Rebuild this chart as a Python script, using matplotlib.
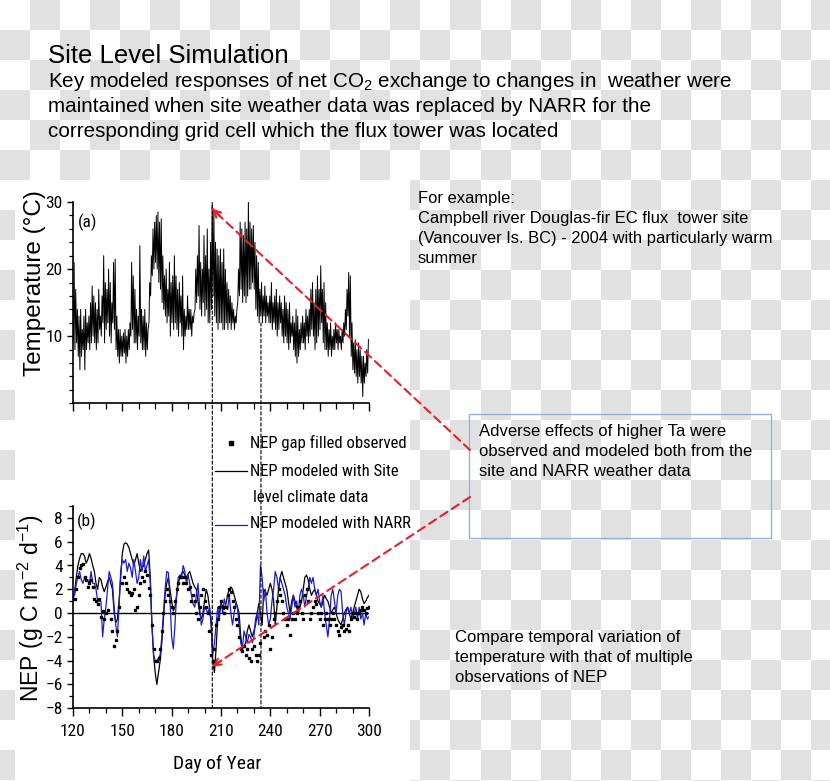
import numpy as np
import matplotlib
matplotlib.use('Agg')
import matplotlib.pyplot as plt
from matplotlib.patches import Rectangle, ConnectionPatch
from matplotlib.colors import ListedColormap
from matplotlib.ticker import MultipleLocator

NARROW = ['Roboto Condensed', 'Archivo Narrow', 'PT Sans Narrow', 'Liberation Sans', 'DejaVu Sans']
REG = ['Liberation Sans', 'DejaVu Sans']
plt.rcParams['font.family'] = NARROW
plt.rcParams['mathtext.fontset'] = 'custom'
plt.rcParams['mathtext.rm'] = 'Liberation Sans'
plt.rcParams['mathtext.it'] = 'Liberation Sans:italic'

# ---------------- data ----------------
temp_days = list(range(120, 300))
tmax = [21, 17, 14, 13, 14, 11, 13, 14, 12, 13,
        15, 17.5, 16, 15, 14, 17, 13, 16, 22, 18,
        17, 20, 18, 15, 21, 21.5, 13, 11, 11, 10,
        10.5, 11, 10, 11, 12, 21, 19, 17, 14, 13,
        23.5, 14, 13, 14, 12, 11, 18, 22, 26, 27,
        28, 28.5, 27, 27.5, 22, 19, 20, 17, 21, 18,
        19, 22, 19, 17, 18, 16, 19, 14, 13, 16,
        14, 14, 13, 13.5, 20, 22, 26.5, 21, 20, 25,
        22, 26, 20, 24, 30, 29, 24, 23, 22, 23,
        21, 23, 20, 18, 17, 16, 15, 14, 13, 14,
        20, 27, 26, 25, 27, 26, 30, 27, 26, 26.5,
        24, 22, 21, 17, 18, 16, 17.5, 16, 15, 16,
        18, 15, 16, 17, 15, 16, 15, 14, 16, 15,
        14, 15, 12, 13, 12, 14, 13, 11, 12, 13,
        12, 14, 13, 14, 17, 18, 15, 17, 19, 17,
        20.5, 17, 18, 15, 12, 11, 12, 10, 11, 12,
        11, 11, 10, 11, 12, 14, 17, 19.5, 19, 12,
        9, 9.5, 8, 9, 8, 7, 7, 6, 8, 9.5]
tmin = [9, 8, 9, 7, 5, 7, 8, 5, 8, 9,
        8, 9, 10, 9, 8, 9, 11, 10, 12, 9,
        11, 12, 10, 9, 12, 11, 8, 7, 6, 7,
        7, 7.5, 6, 7, 8, 10, 11, 9, 9, 8,
        10, 9, 8, 8, 7, 8, 12, 16, 19, 20,
        21, 20, 18, 17, 15, 14, 13, 12, 13, 10,
        12, 11, 12, 11, 10, 12, 10, 8, 10, 11,
        11, 11, 10, 12, 14, 15, 16, 14, 13, 15,
        13, 14, 12, 12, 14, 16, 13, 12, 11, 12,
        12, 11, 11, 12, 11, 12, 11, 12, 11, 12,
        15, 16, 17, 15, 16, 15, 16, 17, 17, 18,
        17, 14, 13, 12, 13, 12, 13, 12, 13, 12,
        12, 11, 12, 11, 10, 11, 12, 10, 9, 10,
        9, 8, 9, 10, 8, 7, 6, 7, 8, 9,
        9, 8, 10, 9, 10, 11, 10, 8, 9, 10,
        11, 12, 9, 8, 8, 7, 8, 7, 8, 8,
        9, 8, 9, 8, 9, 10, 11, 13, 10, 7,
        5, 4.5, 4, 3, 4, 3, 1, 3, 4, 4.5]

nep_days = list(range(120, 301))
nep_site = [1.0, 1.8, 3, 4, 4.6, 5, 5, 4.8, 4.2, 4.5,
            5, 4.6, 4.0, 3.5, 2.5, 2, 3, 2.8, 2.2, 1.8,
            2.2, 2.6, 3, 2.5, 2, 0, -0.8, -0.5, 1, 3,
            5, 5.8, 5.9, 5.8, 5.5, 5, 4.5, 4, 4.5, 5,
            4.2, 3.5, 3.8, 4, 4.5, 5, 5.3, 3, -1, -3.5,
            -5, -6, -5, -4, -2.5, -0.5, 1.5, 2.5, 3, 2,
            1, 0.2, 0.5, 1.5, 2.5, 3, 3.3, 3.5, 3.2, 3,
            3.3, 3.5, 3, 2.5, 2.2, 2, 1, 0, -0.5, 0,
            1, 2, 1.5, 0.5, -1, -4, -5, -3, -0.5, 0,
            0.8, 0.6, 0.3, 0.8, 1.5, 2, 2.2, 2, 1.5, 1,
            0.5, 0, -2, -3, -2.8, -2.5, -1.5, -1, -1.5, -2,
            -1.5, -1, 0, 0.8, 0, -1, 2, 1.8, 1.5, 2,
            2.5, 2, 1, -1, 0.5, 2, 3, 3.5, 3, 2.5,
            2, 1, 0, 1, 1.5, 1, 0.5, 0, 0.5, 1,
            2, 3, 3.2, 2.8, 2, 1.5, 1.8, 2, 1.5, 1,
            0.8, 0.5, 1, 1.5, 1.2, 1, 0.5, 0, 0.3, 0.5,
            0, -0.5, -0.8, -1, -0.5, 0, 0.3, 0.5, 0, -0.5,
            0, 0.5, 1, 1.5, 2, 1.8, 1.2, 0.8, 1, 1.3,
            1.5]
nep_narr = [2.5, 1.5, 2.5, 3, 3.5, 2.8, 2.5, 3, 2.7, 2.8,
            2.5, 3.5, 2.5, 2.5, 2, 1, 1, 1, -2, -0.5,
            0.5, 2, 3.5, 3, 2.5, 0.5, -1, -2, 0.5, 3.5,
            4.5, 4.2, 4.5, 3.5, 4.2, 3.8, 3, 4.5, 3.5, 2.5,
            3, 4.5, 3.5, 4.8, 3.5, 4, 4.5, 2.5, -1, -3.5,
            -4, -4, -3.8, -3.5, -2, 0, 2, 3.5, 3.4, 1,
            -2, -3, -1, 1.5, 3, 3.2, 3, 4, 3.5, 2.5,
            3.2, 2.5, 1.5, 0.8, 0.5, 1.5, 2.5, 0.5, -1, -0.5,
            0.5, 0.3, 0, 0.5, -0.5, -3.5, -2.5, -1, 0.5, -0.5,
            1, 0, 1.2, 0.5, 0.3, 1.5, 0, -1, 0, 0.8,
            0.5, -1, -2.5, -3, -1.5, -2, -2.5, -1.8, -2, -2.5,
            -2, -0.5, 0, -1, 4, 3, 1, 2, 0, -1,
            -0.5, 1, 2, 3.5, 3, 2, 3, 2.5, 2, 1.5,
            0.5, 0, -0.5, 0.5, 1.5, 0.5, 1, 0, 1.5, 2,
            1.5, 0.5, 1.5, 2, 3, 2.5, 3, 2, 1.5, 2,
            1, 0.5, 1.5, 0, -1, -2, -0.5, 1.5, 2, 1,
            0, 1.5, 2, 1.8, 0, -1, 0, 0.5, 0, 0.5,
            -0.5, 0, 0.5, -0.5, 0.5, -0.5, 0, -1, 0, -0.5,
            -0.3]
obs_days = [121, 122, 123, 124, 125, 126, 127, 128, 129, 130, 131, 132, 133, 134, 135, 136, 137, 138, 139, 140,
            141, 143, 144, 145, 146, 147, 148, 150, 151, 152, 153, 154, 155, 156, 157, 158, 159, 160,
            161, 162, 163, 164, 165, 166, 167, 168, 169, 170, 171, 172, 173, 174, 175, 176, 177, 178, 179, 180,
            181, 182, 183, 184, 185, 186, 187, 188, 189, 190, 191, 192, 193, 194, 195, 196, 197, 198, 199, 200,
            201, 202, 203, 204, 205, 206, 207, 208, 209, 210, 211, 212, 213, 214, 215, 216, 217, 218, 219, 220,
            221, 222, 223, 224, 225, 226, 227, 228, 229, 230, 231, 232, 233, 234, 236, 237, 238, 239, 240,
            241, 242, 243, 244, 245, 246, 247, 248, 249, 250, 251, 252, 253, 254, 255, 256, 257, 258, 259, 260,
            261, 262, 263, 264, 265, 266, 267, 268, 269, 270, 271, 272, 273, 274, 275, 276, 277, 278, 279, 280,
            281, 282, 283, 284, 285, 286, 287, 288, 289, 290, 291, 292, 293, 294, 295, 296, 297, 298, 299, 300]
obs_vals = [1.2, 2, 3, 3.8, 4, 4.1, 3, 2.8, 2.2, 2.5, 2.8, 2.2, 1.2, 1, 0.8, 1.2, -0.3, 0.2, -0.5, 0,
            0.3, -0.5, -1.5, -2.8, -2.3, -1.5, 0.5, 2.5, 3, 2.5, 2, 1.8, 1.5, 1.7, 2, 0.3, 0.5, 1.5,
            2.5, 3, 2.7, 3.5, 3.2, 2.1, 1.5, -1, -3, -4, -4, -3.8, -3, -1.5, 0, 1, 2, 1.5, 1, 0.5,
            0, 1, 2, 2.5, 3, 3, 2.5, 3, 2.5, 2, 2.2, 1, 1.5, 1, 0, -0.5, 0.5, 1.5, 2, 1,
            0.5, 0, -1.5, -3.5, -4, -3, -1, -0.5, 0.5, 1, 0.5, 0, 0.5, 1.5, 2, 1.8, 1, 0.5, -0.5, -1,
            -2, -3, -3.2, -2.8, -3.5, -3, -3.8, -4, -3, -2.8, -3.5, -4, -3.5, -2.5, -2, -1.5, -1.8, -1, -3,
            -2, -0.5, 0, 1, 2, 1.5, 1, 0, -0.5, -1, -0.5, -1.8, -0.5, 0, -0.5, 0, 0.5, 1, 0, -0.5,
            1.5, 2, 1, -0.5, 0, 0.5, 1, 0.8, 0, -0.5, 0, -1, -0.5, 0, -0.5, -1, -0.5, 0, -0.5, -1,
            -1.5, -1.8, -1.2, -1, -1.5, -1.3, -1, -1.5, -0.5, 0, -0.3, 0, -0.5, 0, 0.3, 0.5, 0.3, 0, 0.4, 0.5]

event_days = [204.7, 234.3]
event_temp_top = [29.5, 12.0]
arrow_tip_temp = (204.5, 29.0)
arrow_tip_nep = (204.5, -4.5)

# ---------------- figure ----------------
W, H = 830, 781
fig = plt.figure(figsize=(W / 100, H / 100), dpi=100)

def fx(x):
    return x / W

def fy(y):
    return 1 - y / H

bg = fig.add_axes([0, 0, 1, 1])
bg.set_axis_off()
ny, nx = 27, 28
pattern = np.add.outer(np.arange(ny), np.arange(nx)) % 2
bg.imshow(pattern, cmap=ListedColormap(['white', '#e1e1e1']),
          extent=(0, nx * 30, ny * 30, 0), interpolation='nearest', aspect='auto')
bg.add_patch(Rectangle((15, 180), 395, 601, facecolor='white', edgecolor='none'))

# title
bg.text(48, 62.7, 'Site Level Simulation', fontsize=18.5, family=REG, va='baseline')
bg.text(48, 87.3, 'Key modeled responses of net CO$_2$ exchange to changes in  weather were',
        fontsize=14.9, family=REG, va='baseline')
bg.text(48, 111.7, 'maintained when site weather data was replaced by NARR for the',
        fontsize=14.9, family=REG, va='baseline')
bg.text(48, 136.7, 'corresponding grid cell which the flux tower was located',
        fontsize=14.9, family=REG, va='baseline')

for i, s in enumerate(['For example:',
                       'Campbell river Douglas-fir EC flux  tower site',
                       '(Vancouver Is. BC) - 2004 with particularly warm',
                       'summer']):
    bg.text(418, 202.7 + 20 * i, s, fontsize=11.9, family=REG, va='baseline')

for i, s in enumerate(['Adverse effects of higher Ta were',
                       'observed and modeled both from the',
                       'site and NARR weather data']):
    bg.text(479, 436 + 20 * i, s, fontsize=12, family=REG, va='baseline')

for i, s in enumerate(['Compare temporal variation of',
                       'temperature with that of multiple',
                       'observations of NEP']):
    bg.text(455, 641.7 + 20 * i, s, fontsize=12, family=REG, va='baseline')

bg.add_patch(Rectangle((469.3, 414.3), 301.4, 123.4, fill=False, edgecolor='#9cb0d4', lw=1))

BLUE = '#1c1cc8'
# legend
bg.plot([230.7], [443], 's', ms=2.3, color='black')
bg.plot([215, 247], [471, 471], color='black', lw=0.9)
bg.plot([215, 247], [525, 525], color=BLUE, lw=0.9)
bg.text(250, 443, 'NEP gap filled observed', fontsize=12, va='center')
bg.text(250, 471, 'NEP modeled with Site', fontsize=12, va='center')
bg.text(253, 498, 'level climate data', fontsize=12, va='center')
bg.text(250, 524, 'NEP modeled with NARR', fontsize=12, va='center')

# axis labels
bg.text(35, 283.5, 'Temperature (°C)', rotation=90, fontsize=17.5, family=REG,
        ha='center', va='center')
bg.text(31, 608, 'NEP (g C m$^{-2}$ d$^{-1}$)', rotation=90, fontsize=16.5, family=REG,
        ha='center', va='center')
bg.text(217, 764, 'Day of Year', fontsize=14, ha='center', va='center')
bg.set_xlim(0, W)
bg.set_ylim(H, 0)

# ---------------- panels ----------------
ax1 = fig.add_axes([fx(73), fy(403.3), (369 - 73) / W, (403.3 - 202) / H])
ax2 = fig.add_axes([fx(73), fy(708.3), (369 - 73) / W, (708.3 - 506) / H])
for ax in (ax1, ax2):
    ax.set_facecolor('none')
    ax.spines['top'].set_visible(False)
    ax.spines['right'].set_visible(False)
    for sp in ('left', 'bottom'):
        ax.spines[sp].set_linewidth(1.2)
    ax.set_xlim(120, 300)
    ax.xaxis.set_major_locator(MultipleLocator(30))
    ax.xaxis.set_minor_locator(MultipleLocator(10))
    ax.tick_params(which='major', length=4.5, width=1, labelsize=12.5)
    ax.tick_params(axis='y', which='major', pad=3)
    ax.tick_params(which='minor', length=3, width=0.9)

t_time, t_val = [], []
for d, lo, hi in zip(temp_days, tmin, tmax):
    t_time += [d + 0.2, d + 0.65]
    t_val += [lo, hi]
ax1.plot(t_time, t_val, color='black', lw=0.7)
ax1.set_ylim(0, 30)
ax1.set_yticks([10, 20, 30])
ax1.yaxis.set_minor_locator(MultipleLocator(2))
ax1.tick_params(axis='x', which='both', labelbottom=False)
ax1.tick_params(axis='x', which='major', length=5.5)
ax1.tick_params(axis='x', which='minor', length=4.5)
ax1.text(0.015, 0.9, '(a)', transform=ax1.transAxes, fontsize=12.5, va='center')

ax2.axhline(0, color='black', lw=1, zorder=1)
ax2.plot(nep_days, nep_site, color='black', lw=0.9, zorder=2)
ax2.plot(nep_days, nep_narr, color=BLUE, lw=0.9, zorder=3)
ax2.plot(obs_days, obs_vals, 's', ms=2.0, color='black', zorder=4)
ax2.set_ylim(-8, 9)
ax2.set_yticks(list(range(-8, 9, 2)))
ax2.yaxis.set_minor_locator(MultipleLocator(1))
ax2.tick_params(axis='x', which='major', length=5.5, pad=6)
ax2.tick_params(axis='x', which='minor', length=3.5)
ax2.text(0.012, 0.925, '(b)', transform=ax2.transAxes, fontsize=12.5, va='center')

# dashed event lines spanning both panels
for d, top in zip(event_days, event_temp_top):
    cp = ConnectionPatch(xyA=(d, top), coordsA=ax1.transData, xyB=(d, -8), coordsB=ax2.transData,
                         color='black', lw=0.8, linestyle=(0, (3, 2)))
    fig.add_artist(cp)

# red dashed arrows from box
RED = '#e8202a'
for start, tip, ax, off in [((470, 450), arrow_tip_temp, ax1, (5.8, -5.5)),
                            ((470, 497), arrow_tip_nep, ax2, (6.7, 4.4))]:
    cp = ConnectionPatch(xyA=start, coordsA=bg.transData, xyB=tip, coordsB=ax.transData,
                         color=RED, lw=1.5, linestyle=(0, (4, 2.5)))
    fig.add_artist(cp)
    ax.annotate('', xy=tip, xycoords='data', xytext=off, textcoords='offset points',
                arrowprops=dict(arrowstyle='->,head_length=0.5,head_width=0.25', color=RED, lw=1.5,
                                shrinkA=0, shrinkB=0), annotation_clip=False)

fig.savefig('out.png', dpi=100)
